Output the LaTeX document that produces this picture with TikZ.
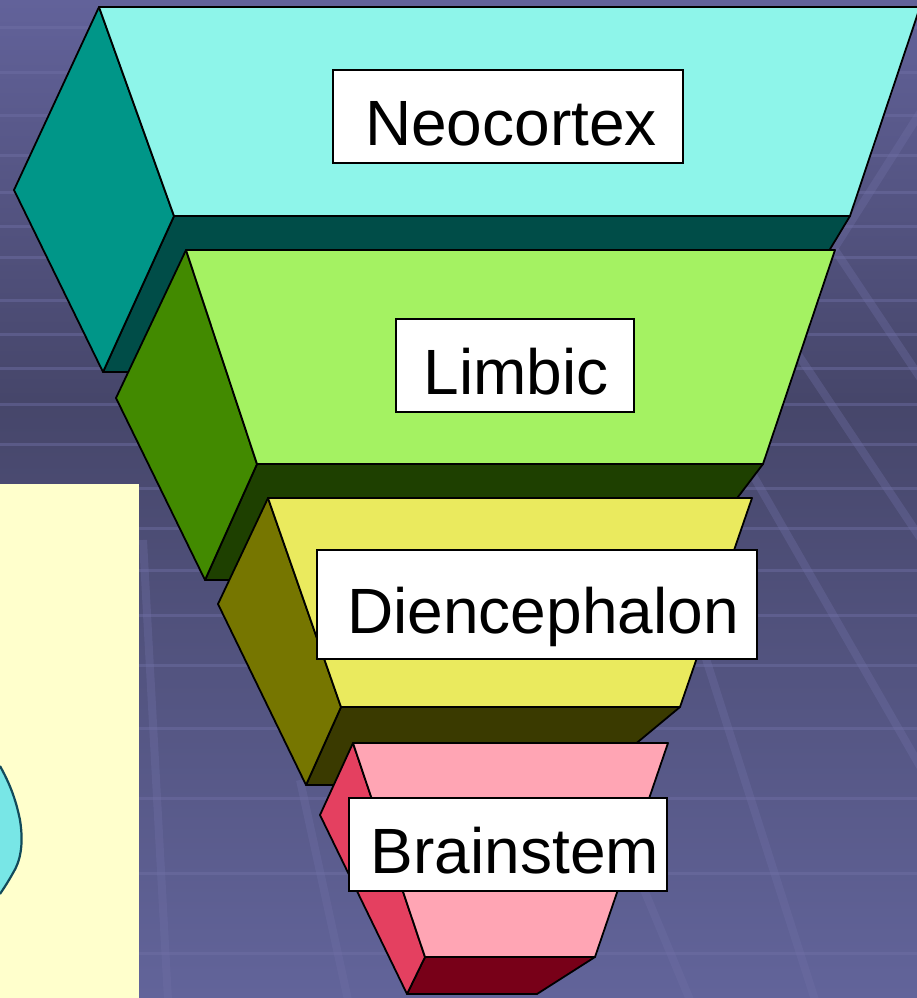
\documentclass[tikz,border=0pt]{standalone}
\usepackage{fontspec}
\setmainfont{Liberation Sans}
\definecolor{neoT}{HTML}{8EF5EA}
\definecolor{neoL}{HTML}{009688}
\definecolor{neoB}{HTML}{004D48}
\definecolor{limT}{HTML}{A4F262}
\definecolor{limL}{HTML}{428A00}
\definecolor{limB}{HTML}{1E4000}
\definecolor{dieT}{HTML}{EAEA5E}
\definecolor{dieL}{HTML}{767600}
\definecolor{dieB}{HTML}{3A3A00}
\definecolor{braT}{HTML}{FFA5B4}
\definecolor{braL}{HTML}{E44060}
\definecolor{braB}{HTML}{780018}
\definecolor{bgTop}{HTML}{62629A}
\definecolor{bgMid}{HTML}{46466A}
\definecolor{bgBot}{HTML}{62649A}
\definecolor{gridc}{HTML}{7070A6}
\definecolor{paper}{HTML}{FFFFCC}
\definecolor{blobc}{HTML}{78E6E6}
\definecolor{blobedge}{HTML}{124A5A}
\begin{document}
\begin{tikzpicture}[x=1pt,y=-1pt,
  face/.style={draw=black, line width=1.8pt, line join=round},
  hline/.style={draw=gridc, line width=3pt, opacity=0.45},
  stripe/.style={draw=gridc, line width=8pt, opacity=0.35},
  lbl/.style={draw=black, line width=1.8pt, fill=white, inner sep=0pt,
    font=\fontsize{64}{70}\selectfont, text height=57pt, text depth=0pt}]
\useasboundingbox (0,0) rectangle (917,998);
% background
\shade[top color=bgTop, bottom color=bgMid] (0,0) rectangle (917,400);
\shade[top color=bgMid, bottom color=bgBot] (0,399) rectangle (917,998);
\foreach \yy in {28,72,115,155,192,226,257,300,334,368,404,444,488,528,570,615,665,728,798,873,953}
  \draw[hline] (0,\yy) -- (917,\yy);
% diagonal stripes
\draw[stripe] (925,105) -- (830,255);
\draw[stripe] (835,250) -- (925,385);
\draw[stripe] (795,350) -- (925,545);
\draw[stripe] (750,470) -- (925,775);
\draw[stripe] (700,640) -- (815,1000);
\draw[stripe] (640,880) -- (690,1000);
\draw[stripe] (143,540) -- (168,1000);
\draw[stripe] (300,780) -- (348,1000);
% yellow panel and blob
\fill[paper] (0,484) rectangle (139,998);
\fill[blobc] (0,766) .. controls (10,784) and (16,800) .. (20,820)
  .. controls (24,845) and (20,862) .. (13,873)
  .. controls (8,882) and (4,888) .. (0,894) -- cycle;
\draw[blobedge, line width=2.2pt] (0,766) .. controls (10,784) and (16,800) .. (20,820)
  .. controls (24,845) and (20,862) .. (13,873)
  .. controls (8,882) and (4,888) .. (0,894);
% Neocortex block
\filldraw[face, fill=neoB] (174,216) -- (850,216) -- (756,372) -- (103,372) -- cycle;
\filldraw[face, fill=neoL] (99,7) -- (14,190) -- (103,372) -- (174,216) -- cycle;
\filldraw[face, fill=neoT] (99,7) -- (920,7) -- (850,216) -- (174,216) -- cycle;
% Limbic block
\filldraw[face, fill=limB] (257,464) -- (763,464) -- (675,580) -- (205,580) -- cycle;
\filldraw[face, fill=limL] (186,250) -- (116,398) -- (205,580) -- (257,464) -- cycle;
\filldraw[face, fill=limT] (186,250) -- (835,250) -- (763,464) -- (257,464) -- cycle;
% Diencephalon block
\filldraw[face, fill=dieB] (341,707) -- (680,707) -- (586,785) -- (306,785) -- cycle;
\filldraw[face, fill=dieL] (268,498) -- (218,604) -- (306,785) -- (341,707) -- cycle;
\filldraw[face, fill=dieT] (268,498) -- (752,498) -- (680,707) -- (341,707) -- cycle;
% Brainstem block
\filldraw[face, fill=braB] (425,957) -- (595,957) -- (537,994) -- (407,994) -- cycle;
\filldraw[face, fill=braL] (353,743) -- (320,815) -- (407,994) -- (425,957) -- cycle;
\filldraw[face, fill=braT] (353,743) -- (668,743) -- (595,957) -- (425,957) -- cycle;
% labels
\node[lbl, minimum width=350pt, minimum height=93pt] (neo) at (508,116.5) {\hspace{6pt}Neocortex};
\node[lbl, minimum width=238pt, minimum height=93pt] (lim) at (515,365.5) {\hspace{2pt}Limbic};
\node[lbl, minimum width=440pt, minimum height=109pt] (die) at (537,604.5) {\hspace{12pt}Diencephalon};
\node[lbl, minimum width=318pt, minimum height=93pt] (bra) at (508,844.5) {\hspace{14pt}Brainstem};
\end{tikzpicture}
\end{document}
